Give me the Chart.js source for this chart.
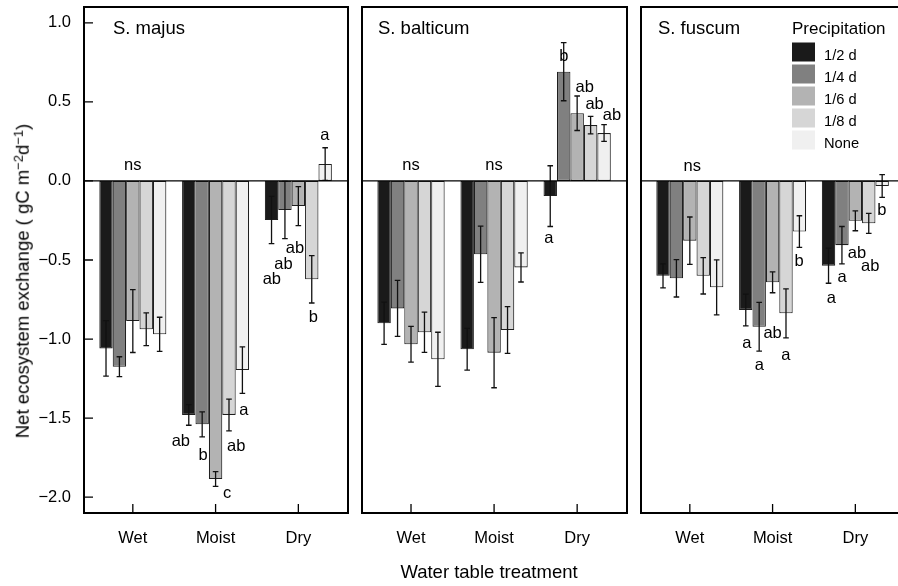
<!DOCTYPE html>
<html>
<head>
<meta charset="utf-8">
<script src="https://cdn.jsdelivr.net/npm/chart.js@4.4.1/dist/chart.umd.min.js"></script>
<style>
  html, body { margin: 0; padding: 0; background: #fff; overflow: hidden; width: 898px; height: 586px; }
  #wrap { position: relative; width: 898px; height: 586px; overflow: hidden; }
  canvas { position: absolute; left: 0; top: 0; }
  .lab { position: absolute; font-family: "Liberation Sans", Arial, Helvetica, sans-serif; color: #000; white-space: nowrap; line-height: 1; }
  #ytitle { left: 22.5px; top: 281px; font-size: 18.5px; transform: translate(-50%, -50%) rotate(-90deg); }
  #xtitle { left: 489px; top: 572px; font-size: 18.5px; transform: translate(-50%, -50%); }
  #ytitle sup { font-size: 13px; position: relative; top: -0.45em; vertical-align: baseline; }
</style>
</head>
<body>
<div id="wrap">
<canvas id="pMajus" width="910" height="586"></canvas>
<canvas id="pBalticum" width="910" height="586"></canvas>
<canvas id="pFuscum" width="910" height="586"></canvas>
<div id="ytitle" class="lab">Net ecosystem exchange ( gC m<sup>−2</sup>d<sup>−1</sup>)</div>
<div id="xtitle" class="lab">Water table treatment</div>
</div>
<script>
// ---- data ----
const treatments = ['Wet', 'Moist', 'Dry'];
const precipLevels = ['1/2 d', '1/4 d', '1/6 d', '1/8 d', 'None'];
const yTickValues = [-2.0, -1.5, -1.0, -0.5, 0.0, 0.5, 1.0];

// mean NEE, one row per precipitation level, columns Wet / Moist / Dry
const majusMean = [
  [-1.059, -1.480, -0.247],
  [-1.175, -1.539, -0.184],
  [-0.886, -1.885, -0.159],
  [-0.938, -1.480, -0.622],
  [-0.970, -1.196,  0.107]
];
const majusSE = [
  [0.175, 0.065, 0.150],
  [0.063, 0.079, 0.181],
  [0.199, 0.047, 0.123],
  [0.104, 0.100, 0.150],
  [0.108, 0.147, 0.103]
];
const balticumMean = [
  [-0.900, -1.065, -0.096],
  [-0.806, -0.464,  0.691],
  [-1.033, -1.086,  0.428],
  [-0.957, -0.943,  0.353],
  [-1.128, -0.547,  0.303]
];
const balticumSE = [
  [0.133, 0.132, 0.192],
  [0.177, 0.178, 0.184],
  [0.113, 0.222, 0.109],
  [0.127, 0.148, 0.055],
  [0.171, 0.092, 0.053]
];
const fuscumMean = [
  [-0.600, -0.816, -0.536],
  [-0.616, -0.922, -0.406],
  [-0.378, -0.641, -0.252],
  [-0.600, -0.837, -0.268],
  [-0.673, -0.320, -0.032]
];
const fuscumSE = [
  [0.076, 0.100, 0.111],
  [0.118, 0.154, 0.118],
  [0.150, 0.066, 0.063],
  [0.115, 0.155, 0.063],
  [0.174, 0.100, 0.072]
];

// significance letters and where they sit (x in treatment units, y in gC m-2 d-1)
const majusLetters   = ['ns', 'ab', 'b', 'c', 'ab', 'a', 'ab', 'ab', 'ab', 'b', 'a'];
const majusLetterX   = [1.00, 1.58, 1.85, 2.14, 2.25, 2.34, 2.68, 2.82, 2.96, 3.18, 3.32];
const majusLetterY   = [0.10, -1.645, -1.733, -1.974, -1.676, -1.449, -0.620, -0.526, -0.424, -0.861, 0.290];
const balticumLetters = ['ns', 'ns', 'a', 'b', 'ab', 'ab', 'ab'];
const balticumLetterX = [1.00, 2.00, 2.66, 2.84, 3.09, 3.21, 3.42];
const balticumLetterY = [0.10, 0.10, -0.361, 0.790, 0.594, 0.486, 0.417];
const fuscumLetters  = ['ns', 'a', 'a', 'ab', 'a', 'b', 'a', 'a', 'ab', 'ab', 'b'];
const fuscumLetterX  = [1.03, 1.69, 1.84, 2.00, 2.16, 2.32, 2.71, 2.84, 3.02, 3.18, 3.32];
const fuscumLetterY  = [0.094, -1.027, -1.164, -0.962, -1.101, -0.511, -0.742, -0.610, -0.458, -0.543, -0.184];

// ---- style ----
const barColors = ['#1a1a1a', '#808080', '#b3b3b3', '#d6d6d6', '#f0f0f0'];
const FONT = '"Liberation Sans", Arial, Helvetica, sans-serif';
const CW = 910, CH = 586;
const PLOT_TOP = 7, PLOT_BOTTOM = 513;

const panels = [
  { id: 'pMajus', name: 'S. majus', mean: majusMean, se: majusSE,
    letters: majusLetters, lx: majusLetterX, ly: majusLetterY,
    left: 84, right: 348, yAxis: true, legend: false, titleDx: 29 },
  { id: 'pBalticum', name: 'S. balticum', mean: balticumMean, se: balticumSE,
    letters: balticumLetters, lx: balticumLetterX, ly: balticumLetterY,
    left: 362, right: 627, yAxis: false, legend: false, titleDx: 16 },
  { id: 'pFuscum', name: 'S. fuscum', mean: fuscumMean, se: fuscumSE,
    letters: fuscumLetters, lx: fuscumLetterX, ly: fuscumLetterY,
    left: 641, right: 905, yAxis: false, legend: true, titleDx: 17 }
];

const fmtTick = v => (v < 0 ? '\u2212' : '') + Math.abs(v).toFixed(1);

function decorations(p) {
  return {
    id: 'decor_' + p.id,
    afterDatasetsDraw(chart) {
      const ctx = chart.ctx, ys = chart.scales.y;
      // error bars (mean ± SE)
      ctx.save();
      ctx.strokeStyle = '#111';
      ctx.lineWidth = 1.3;
      chart.data.datasets.forEach((ds, k) => {
        chart.getDatasetMeta(k).data.forEach((bar, i) => {
          const m = p.mean[k][i], e = p.se[k][i];
          const x = bar.x;
          const yHi = ys.getPixelForValue(m + e), yLo = ys.getPixelForValue(m - e);
          ctx.beginPath();
          ctx.moveTo(x, yHi); ctx.lineTo(x, yLo);
          ctx.moveTo(x - 2.8, yHi); ctx.lineTo(x + 2.8, yHi);
          ctx.moveTo(x - 2.8, yLo); ctx.lineTo(x + 2.8, yLo);
          ctx.stroke();
        });
      });
      ctx.restore();
    },
    afterDraw(chart) {
      const ctx = chart.ctx, a = chart.chartArea;
      const xs = chart.scales.x, ys = chart.scales.y;
      ctx.save();
      // zero reference line
      const y0 = ys.getPixelForValue(0);
      ctx.strokeStyle = '#000';
      ctx.lineWidth = 1.2;
      ctx.beginPath(); ctx.moveTo(a.left, y0); ctx.lineTo(a.right, y0); ctx.stroke();
      // inward tick marks
      ctx.lineWidth = 1.3;
      ctx.beginPath();
      xs.ticks.forEach(t => {
        const x = xs.getPixelForValue(t.value);
        ctx.moveTo(x, a.bottom); ctx.lineTo(x, a.bottom - 9);
      });
      if (p.yAxis) {
        yTickValues.forEach(v => {
          const y = ys.getPixelForValue(v);
          ctx.moveTo(a.left, y); ctx.lineTo(a.left + 9, y);
        });
      }
      ctx.stroke();
      // panel frame
      ctx.lineWidth = 2;
      ctx.strokeRect(a.left, a.top, a.right - a.left, a.bottom - a.top);
      // species name
      ctx.fillStyle = '#000';
      ctx.font = '18.5px ' + FONT;
      ctx.textAlign = 'left';
      ctx.textBaseline = 'alphabetic';
      ctx.fillText(p.name, a.left + p.titleDx, 34);
      // significance letters
      ctx.font = '16.5px ' + FONT;
      ctx.textAlign = 'center';
      ctx.textBaseline = 'middle';
      p.letters.forEach((s, j) => {
        ctx.fillText(s, xs.getPixelForValue(p.lx[j]), ys.getPixelForValue(p.ly[j]));
      });
      // legend
      if (p.legend) {
        const lx = 792;
        ctx.textAlign = 'left';
        ctx.textBaseline = 'alphabetic';
        ctx.font = '17px ' + FONT;
        ctx.fillText('Precipitation', lx, 34);
        ctx.font = '14.7px ' + FONT;
        chart.data.datasets.forEach((ds, k) => {
          ctx.fillStyle = ds.backgroundColor;
          ctx.fillRect(lx, 42.5 + 22 * k, 23, 19);
          ctx.fillStyle = '#000';
          ctx.fillText(ds.label, lx + 32, 60 + 22 * k);
        });
      }
      ctx.restore();
    }
  };
}

function makePanel(p) {
  const datasets = precipLevels.map((lvl, k) => ({
    label: lvl,
    data: treatments.map((t, i) => ({ x: i + 1, y: p.mean[k][i] })),
    backgroundColor: barColors[k],
    borderColor: '#1e1e1e',
    borderWidth: 1.1,
    borderSkipped: false,
    categoryPercentage: 0.81,
    barPercentage: 1.0
  }));
  return new Chart(document.getElementById(p.id), {
    type: 'bar',
    data: { datasets },
    options: {
      responsive: false,
      animation: false,
      devicePixelRatio: 1,
      layout: { padding: { left: p.yAxis ? 0 : p.left, right: CW - p.right, top: PLOT_TOP, bottom: 0 } },
      plugins: { legend: { display: false }, tooltip: { enabled: false } },
      scales: {
        x: {
          type: 'linear', min: 0.41, max: 3.6, offset: false,
          afterBuildTicks: s => { s.ticks = treatments.map((t, i) => ({ value: i + 1 })); },
          afterFit: s => {
            s.height = CH - PLOT_BOTTOM;
            s.paddingLeft = 0; s.paddingRight = 0; s.paddingTop = 0; s.paddingBottom = 0;
          },
          ticks: { callback: v => treatments[Math.round(v) - 1], color: '#000',
                   font: { family: FONT, size: 16.5 }, padding: 16, maxRotation: 0, autoSkip: false },
          grid: { display: false, drawTicks: false },
          border: { display: false }
        },
        y: {
          min: -2.1, max: 1.1, display: p.yAxis,
          afterBuildTicks: s => { s.ticks = yTickValues.map(v => ({ value: v })); },
          afterFit: s => {
            s.width = p.yAxis ? p.left : 0;
            s.paddingLeft = 0; s.paddingRight = 0; s.paddingTop = 0; s.paddingBottom = 0;
          },
          ticks: { callback: v => fmtTick(v), color: '#000',
                   font: { family: FONT, size: 16.5 }, padding: 13 },
          grid: { display: false, drawTicks: false },
          border: { display: false }
        }
      }
    },
    plugins: [decorations(p)]
  });
}

panels.forEach(makePanel);
</script>
</body>
</html>
